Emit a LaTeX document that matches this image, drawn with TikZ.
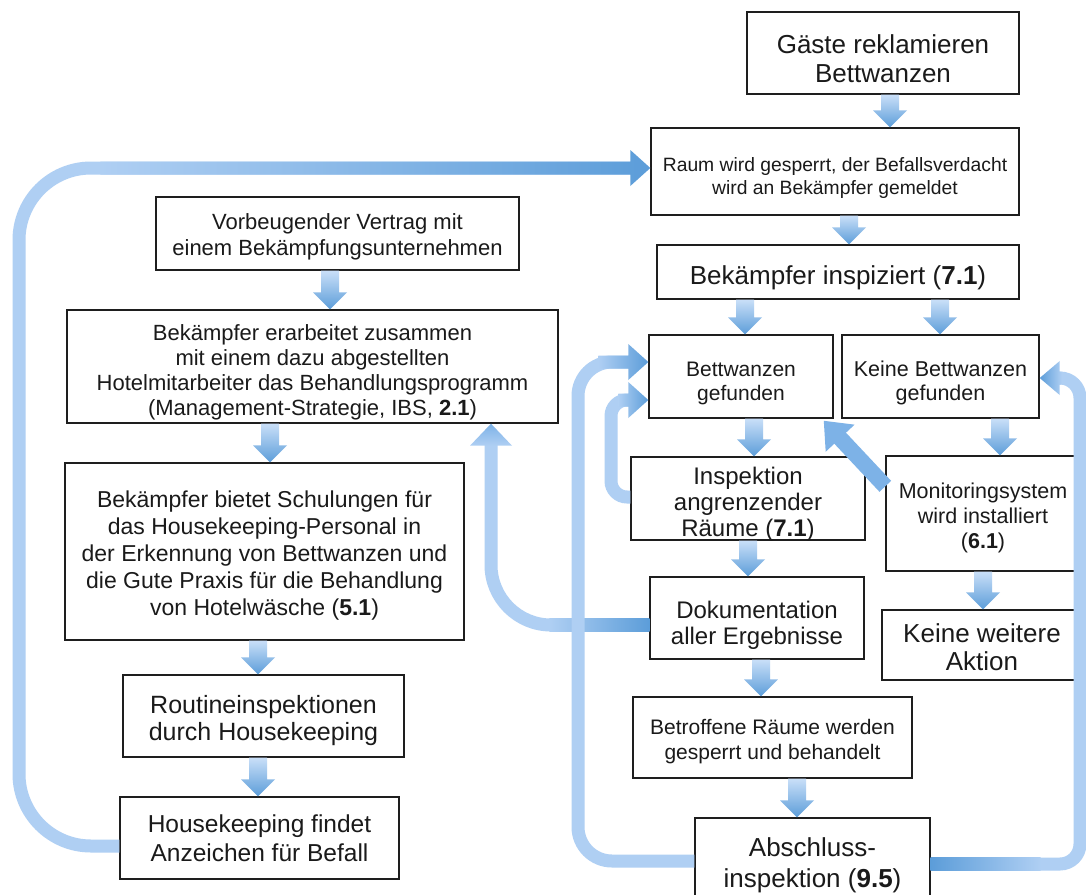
\documentclass[tikz,border=0pt]{standalone}
\usepackage{fontspec}
\setmainfont{Liberation Sans}
\usetikzlibrary{calc,arrows.meta}
\definecolor{boxline}{HTML}{1E1E1E}
\definecolor{al}{HTML}{AFCFF3}
\definecolor{am}{HTML}{7DB2E7}
\definecolor{ad}{HTML}{5C9DD9}
\definecolor{at}{HTML}{C9DFF8}
\definecolor{txt}{HTML}{1A1A1A}
\tikzset{
  box/.style={draw=boxline, line width=1.4pt, fill=white, inner sep=0pt},
  tx/.style={align=center, inner sep=0pt, text=txt},
  loopline/.style={draw=al, line width=13pt},
}
\newcommand{\dnarr}[3]{%
  \shade[top color=at, bottom color=ad] let \p1=(#1.south), \p2=(#2.north) in
    (#3pt-9pt,\y1) -- (#3pt+9pt,\y1) -- (#3pt+9pt,\y2+17pt) -- (#3pt+17pt,\y2+17pt)
    -- (#3pt,\y2) -- (#3pt-17pt,\y2+17pt) -- (#3pt-9pt,\y2+17pt) -- cycle;}
\newcommand{\rarrhead}[2]{%
  \shade[left color=al, right color=ad] let \p1=(#1) in
    (\x1-#2,\y1+6.5pt) -- (\x1-20pt,\y1+6.5pt) -- (\x1-20pt,\y1+18pt) -- (\x1,\y1)
    -- (\x1-20pt,\y1-18pt) -- (\x1-20pt,\y1-6.5pt) -- (\x1-#2,\y1-6.5pt) -- cycle;}
\newcommand{\larrhead}[2]{%
  \shade[left color=ad, right color=al] let \p1=(#1) in
    (\x1+#2,\y1+6.5pt) -- (\x1+20pt,\y1+6.5pt) -- (\x1+20pt,\y1+17pt) -- (\x1,\y1)
    -- (\x1+20pt,\y1-17pt) -- (\x1+20pt,\y1-6.5pt) -- (\x1+#2,\y1-6.5pt) -- cycle;}
% #1 name, #2 centre, #3 width, #4 height, #5 font size, #6 skip, #7 text shift down, #8 text
\newcommand{\bx}[8]{%
  \node[box, minimum width=#3pt, minimum height=#4pt] (#1) at (#2) {};
  \node[tx, font=\fontsize{#5pt}{#6pt}\selectfont] (#1-t) at ([yshift=-#7pt]#1.center) {#8};}
\begin{document}
\begin{tikzpicture}[x=1pt,y=-1pt]
\useasboundingbox (0,0) rectangle (1086,894);
\fill[white] (0,0) rectangle (1086,894);

% right column
\bx{gaeste}{883,53}{272}{82}{26}{29}{6}{Gäste reklamieren\\Bettwanzen}
\bx{raum}{835,171.5}{368}{87}{19.3}{23}{7}{Raum wird gesperrt, der Befallsverdacht\\wird an Bekämpfer gemeldet}
\bx{inspiz}{838,272}{362}{54}{26}{29}{6}{Bekämpfer inspiziert (\textbf{7.1})}
\bx{bwg}{741,376.5}{184}{83}{21}{24}{6.5}{Bettwanzen\\gefunden}
\bx{kbwg}{940.5,376.5}{197}{83}{21.5}{24}{6.5}{Keine Bettwanzen\\gefunden}
\bx{insp}{748,498.5}{234}{83}{24}{26}{5.5}{Inspektion\\angrenzender\\Räume (\textbf{7.1})}
\bx{monit}{983,513.5}{194}{115}{21.5}{25}{4}{Monitoringsystem\\wird installiert\\(\textbf{6.1})}
\bx{doku}{757,618}{214}{82}{24}{26}{7}{Dokumentation\\aller Ergebnisse}
\bx{keine}{982,645}{200}{70}{26}{28}{2}{Keine weitere\\Aktion}
\bx{betr}{772.5,737.5}{279}{81}{21}{25}{4}{Betroffene Räume werden\\gesperrt und behandelt}
\bx{abschl}{812.5,859}{235}{82}{26}{31}{6}{Abschluss-\\inspektion (\textbf{9.5})}

% left column
\bx{vorb}{337.5,233.5}{363}{73}{22}{26}{3}{Vorbeugender Vertrag mit\\einem Bekämpfungsunternehmen}
\bx{erarb}{312.5,366.5}{491}{113}{22}{25}{6}{Bekämpfer erarbeitet zusammen\\mit einem dazu abgestellten\\Hotelmitarbeiter das Behandlungsprogramm\\(Management-Strategie, IBS, \textbf{2.1})}
\bx{schul}{264.5,551.5}{399}{177}{23}{27}{4.5}{Bekämpfer bietet Schulungen für\\das Housekeeping-Personal in\\der Erkennung von Bettwanzen und\\die Gute Praxis für die Behandlung\\von Hotelwäsche (\textbf{5.1})}
\bx{routine}{263.5,716}{281}{82}{25}{27}{5}{Routineinspektionen\\durch Housekeeping}
\bx{house}{259.5,838}{279}{82}{24.5}{29}{0}{Housekeeping findet\\Anzeichen für Befall}

% straight down arrows
\dnarr{gaeste}{raum}{890}
\dnarr{raum}{inspiz}{849}
\dnarr{inspiz}{bwg}{745}
\dnarr{inspiz}{kbwg}{940}
\dnarr{bwg}{insp}{754}
\dnarr{kbwg}{monit}{1000}
\dnarr{insp}{doku}{748}
\dnarr{monit}{keine}{983}
\dnarr{doku}{betr}{761}
\dnarr{betr}{abschl}{797}
\dnarr{vorb}{erarb}{330}
\dnarr{erarb}{schul}{270}
\dnarr{schul}{routine}{258}
\dnarr{routine}{house}{258}

% Housekeeping -> Raum (left loop)
\coordinate (lb) at ([yshift=-8pt]house.west);
\coordinate (lt) at ([yshift=3.5pt]raum.west);
\draw[loopline, rounded corners=72pt] (lb) -| (19,168) -- ([xshift=-19pt]lt);
\rarrhead{lt}{550pt}

% Dokumentation -> Bekaempfer erarbeitet
\coordinate (db) at ([yshift=-7pt]doku.west);
\coordinate (dx) at (491,0);
\coordinate (dtip) at (erarb.south -| dx);
\draw[loopline, rounded corners=60pt] (db) -| ([yshift=-20pt]dtip);
\shade[left color=al, right color=ad] let \p1=(db) in (\x1-100pt,\y1+6.5pt) rectangle (\x1,\y1-6.5pt);
\shade[top color=am, bottom color=al] let \p1=(dtip) in (\x1-21pt,\y1-22pt) -- (\x1,\y1) -- (\x1+21pt,\y1-22pt) -- cycle;

% Abschluss -> Bettwanzen gefunden (big loop)
\coordinate (bb) at ([yshift=-2pt]abschl.west);
\coordinate (bt) at ([yshift=14.5pt]bwg.west);
\draw[loopline, rounded corners=34pt] (bb) -| (578,362) -- ([xshift=-19pt]bt);
\rarrhead{bt}{50pt}

% Inspektion -> Bettwanzen gefunden (small loop)
\coordinate (sb) at ([yshift=1.5pt]insp.west);
\coordinate (st) at ([yshift=-23.5pt]bwg.west);
\draw[loopline, rounded corners=16pt] (sb) -| (611,400) -- ([xshift=-19pt]st);
\rarrhead{st}{30pt}

% Abschluss -> Keine Bettwanzen gefunden (right loop)
\coordinate (rb) at ([yshift=-5pt]abschl.east);
\coordinate (rt) at ([yshift=-1.5pt]kbwg.east);
\draw[loopline, rounded corners=20pt] (rb) -| (1080,378) -- ([xshift=19pt]rt);
\shade[left color=ad, right color=al] let \p1=(rb) in (\x1,\y1+6.5pt) rectangle (\x1+110pt,\y1-6.5pt);
\larrhead{rt}{22pt}

% Monitoring -> Bettwanzen gefunden (diagonal)
\coordinate (mt) at ([yshift=-31pt]monit.north west);
\coordinate (mh) at ([xshift=-10pt,yshift=-2pt]bwg.south east);
\draw[line width=16pt, draw=am, -{Triangle[width=38pt,length=24pt]}] (mt) -- (mh);
\end{tikzpicture}
\end{document}
